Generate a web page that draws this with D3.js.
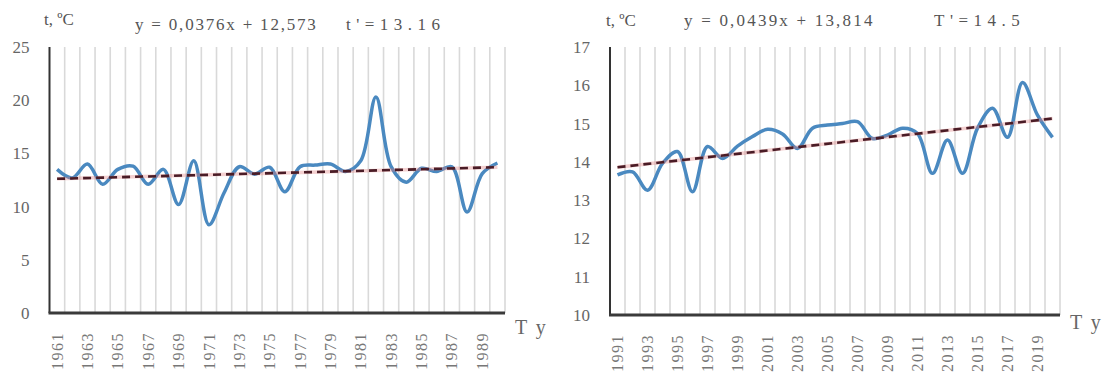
<!DOCTYPE html>
<html><head><meta charset="utf-8">
<script src="https://cdn.jsdelivr.net/npm/d3@7"></script>
<style>body{margin:0;background:#fff}svg{display:block}</style>
</head><body>
<svg id="c" width="1107" height="381"></svg>
<script>
// ---- data ----
const years1 = [1961,1962,1963,1964,1965,1966,1967,1968,1969,1970,1971,1972,1973,1974,1975,1976,1977,1978,1979,1980,1981,1982,1983,1984,1985,1986,1987,1988,1989,1990];
const temps1 = [13.5,12.7,14.0,12.1,13.5,13.8,12.1,13.5,10.2,14.3,8.3,11.3,13.75,13.05,13.7,11.4,13.75,13.9,14.0,13.3,14.3,20.3,13.75,12.3,13.6,13.3,13.75,9.5,13.1,14.1];
const years2 = [1991,1992,1993,1994,1995,1996,1997,1998,1999,2000,2001,2002,2003,2004,2005,2006,2007,2008,2009,2010,2011,2012,2013,2014,2015,2016,2017,2018,2019,2020];
const temps2 = [13.66,13.74,13.26,13.96,14.27,13.22,14.40,14.09,14.41,14.66,14.85,14.73,14.35,14.88,14.96,15.0,15.05,14.61,14.70,14.88,14.74,13.70,14.57,13.70,14.88,15.40,14.64,16.07,15.22,14.64];
const yTicks1 = [0,5,10,15,20,25];
const yTicks2 = [10,11,12,13,14,15,16,17];
const trendSlope1 = 0.0376, trendIntercept1 = 12.573;
const trendSlope2 = 0.0439, trendIntercept2 = 13.814;
const unitLabel = "t, ºC";
const eqLabel1 = "y = 0,0376x + 12,573", meanLabel1 = "t'=13.16";
const eqLabel2 = "y = 0,0439x + 13,814", meanLabel2 = "T'=14.5";
const xLabel = "T y";

const svg = d3.select("#c");
const serif = "'Liberation Serif','Times New Roman',serif";

function panel(cfg){
  const {years, temps, yTicks, yDomain, x0, x1, yTop, yBot, slope, intercept} = cfg;
  const g = svg.append("g");
  const x = d3.scaleBand().domain(years).range([x0, x1]).padding(0);
  const y = d3.scaleLinear().domain(yDomain).range([yBot, yTop]);

  // vertical gridlines at category boundaries
  const bounds = years.map(d => x(d)).concat([x1]);
  g.append("g").selectAll("line").data(bounds.slice(1)).join("line")
    .attr("x1", d => d).attr("x2", d => d)
    .attr("y1", yTop).attr("y2", yBot)
    .attr("stroke", "#d9d9d9").attr("stroke-width", 1.6);

  // y axis
  const ya = g.append("g").attr("transform", `translate(${x0},0)`)
    .call(d3.axisLeft(y).tickValues(yTicks).tickSize(0).tickPadding(20).tickFormat(d3.format("d")));
  ya.select(".domain").remove();
  ya.selectAll("text").attr("font-family", serif).attr("font-size", 17).attr("fill", "#666");
  g.append("line").attr("x1", x0).attr("x2", x0).attr("y1", yTop).attr("y2", yBot)
    .attr("stroke", "#333").attr("stroke-width", 2);

  // x axis
  const xa = g.append("g").attr("transform", `translate(0,${yBot})`)
    .call(d3.axisBottom(x).tickSize(0).tickPadding(0)
      .tickFormat((d, i) => i % 2 === 0 ? d : ""));
  xa.select(".domain").remove();
  xa.selectAll("text")
    .attr("font-family", serif).attr("font-size", 16).attr("fill", "#777")
    .attr("letter-spacing", 1.5)
    .attr("text-anchor", "end").attr("dy", "0.35em")
    .attr("transform", "translate(0,19) rotate(-90)");
  g.append("line").attr("x1", x0 - 1).attr("x2", x1).attr("y1", yBot).attr("y2", yBot)
    .attr("stroke", "#3a3a3a").attr("stroke-width", 3);

  // data line
  const cx = d => x(d) + x.bandwidth() / 2;
  const line = d3.line().x((d, i) => cx(years[i])).y(d => y(d)).curve(d3.curveCatmullRom.alpha(0.5));
  g.append("path").datum(temps).attr("d", line)
    .attr("fill", "none").attr("stroke", "#4a89c0").attr("stroke-width", 3.5)
    .attr("stroke-linejoin", "round");

  // trend line (linear, from equation, x = 1..n)
  const n = years.length;
  const tl = [[cx(years[0]), y(slope * 1 + intercept)], [cx(years[n - 1]), y(slope * n + intercept)]];
  g.append("line").attr("x1", tl[0][0]).attr("y1", tl[0][1]).attr("x2", tl[1][0]).attr("y2", tl[1][1])
    .attr("stroke", "#e07a7a").attr("stroke-width", 3.5).attr("opacity", 0.35);
  g.append("line").attr("x1", tl[0][0]).attr("y1", tl[0][1]).attr("x2", tl[1][0]).attr("y2", tl[1][1])
    .attr("stroke", "#4a1c26").attr("stroke-width", 2.6).attr("stroke-dasharray", "8,5");
  return g;
}

panel({years: years1, temps: temps1, yTicks: yTicks1, yDomain: [0, 25], x0: 49.5, x1: 505, yTop: 47, yBot: 313,
  slope: trendSlope1, intercept: trendIntercept1});
panel({years: years2, temps: temps2, yTicks: yTicks2, yDomain: [10, 17], x0: 610, x1: 1060, yTop: 47, yBot: 315,
  slope: trendSlope2, intercept: trendIntercept2});

// titles
function txt(x, y, s, opts = {}){
  svg.append("text").attr("x", x).attr("y", y).text(s)
    .attr("font-family", serif).attr("font-size", opts.size || 17)
    .attr("fill", opts.fill || "#555")
    .attr("letter-spacing", opts.ls || 0);
}
txt(44, 25, unitLabel, {size: 17});
txt(135, 30, eqLabel1, {ls: 1.8});
txt(346, 30, meanLabel1, {ls: 5.5});
txt(606, 26, unitLabel, {size: 17});
txt(684, 26, eqLabel2, {ls: 2.2});
txt(934, 26, meanLabel2, {ls: 5.5});
txt(515, 334, xLabel, {size: 20, ls: 2, fill: "#666"});
txt(1070, 329, xLabel, {size: 20, ls: 2, fill: "#666"});
</script>
</body></html>
